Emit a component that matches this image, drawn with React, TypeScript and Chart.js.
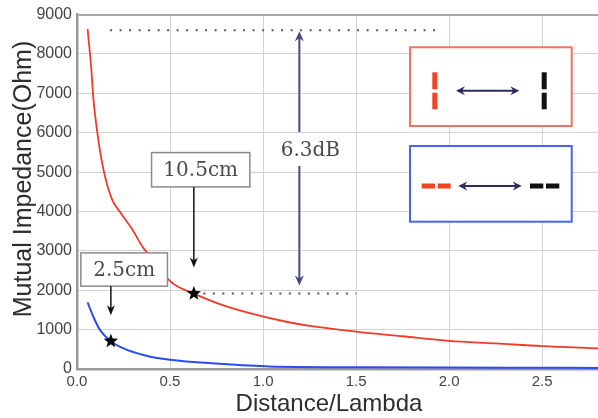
import React, { useEffect, useRef } from 'react';
import { Chart, registerables } from 'chart.js';

Chart.register(...registerables);

// ---- data ----
const redX = [0.057, 0.075, 0.089, 0.11, 0.142, 0.187, 0.232, 0.295, 0.357, 0.43, 0.5, 0.628, 0.767, 0.944, 1.125, 1.25, 1.5, 1.75, 2.0, 2.25, 2.5, 2.8];
const redY = [8630, 7730, 6820, 5980, 5070, 4320, 3980, 3560, 3070, 2690, 2230, 1915, 1650, 1400, 1200, 1095, 950, 832, 715, 650, 580, 525];
const blueX = [0.057, 0.089, 0.125, 0.182, 0.25, 0.357, 0.5, 0.767, 1.035, 1.5, 2.0, 2.5, 2.8];
const blueY = [1690, 1315, 982, 707, 525, 357, 232, 132, 65, 45, 35, 30, 28];
const starX = [0.182, 0.628];
const starY = [707, 1915];
const starLabels = ['2.5cm', '10.5cm'];
const levelHigh = 8600;
const levelLow = 1915;
const levelHighRange = [0.178, 1.937];
const levelLowEnd = 1.5;
const gapX = 1.195;
const gapLabel = '6.3dB';
const X_MIN = 0, X_MAX = 2.8, X_STEP = 0.5;
const Y_MIN = 0, Y_MAX = 9000, Y_STEP = 1000;
const xTitle = 'Distance/Lambda';
const yTitle = 'Mutual Impedance(Ohm)';

const RED = '#ef3b2a';
const BLUE = '#2c4cf0';
const SANS = '"Liberation Sans", Arial, Helvetica, sans-serif';
const SERIF = '"DejaVu Serif", serif';

function drawStar(ctx: CanvasRenderingContext2D, cx: number, cy: number, R: number, r: number) {
  ctx.beginPath();
  for (let i = 0; i < 10; i++) {
    const a = -Math.PI / 2 + (i * Math.PI) / 5;
    const rad = i % 2 === 0 ? R : r;
    const x = cx + rad * Math.cos(a);
    const y = cy + rad * Math.sin(a);
    if (i === 0) ctx.moveTo(x, y); else ctx.lineTo(x, y);
  }
  ctx.closePath();
  ctx.fill();
}

function arrowHeadV(ctx: CanvasRenderingContext2D, x: number, y: number, dir: number, hw: number, hl: number) {
  ctx.beginPath();
  ctx.moveTo(x, y);
  ctx.lineTo(x - hw, y - dir * hl);
  ctx.lineTo(x, y - dir * (hl - 3));
  ctx.lineTo(x + hw, y - dir * hl);
  ctx.closePath();
  ctx.fill();
}

function arrowHeadH(ctx: CanvasRenderingContext2D, x: number, y: number, dir: number, hw: number, hl: number) {
  ctx.beginPath();
  ctx.moveTo(x, y);
  ctx.lineTo(x - dir * hl, y - hw);
  ctx.lineTo(x - dir * (hl - 3), y);
  ctx.lineTo(x - dir * hl, y + hw);
  ctx.closePath();
  ctx.fill();
}

function labelBox(ctx: CanvasRenderingContext2D, left: number, top: number, w: number, h: number, text: string) {
  ctx.fillStyle = '#ffffff';
  ctx.fillRect(left, top, w, h);
  ctx.strokeStyle = '#8a8a8a';
  ctx.lineWidth = 1.5;
  ctx.setLineDash([]);
  ctx.strokeRect(left, top, w, h);
  ctx.fillStyle = '#4a4a4a';
  ctx.font = `20px ${SERIF}`;
  ctx.textAlign = 'center';
  ctx.textBaseline = 'middle';
  ctx.fillText(text, left + w / 2, top + h / 2 + 1);
}

const annotationPlugin = {
  id: 'annotations',
  afterDatasetsDraw(chart: any) {
    const ctx: CanvasRenderingContext2D = chart.ctx;
    const xs = chart.scales.x;
    const ys = chart.scales.y;
    ctx.save();

    ctx.strokeStyle = '#505562';
    ctx.lineWidth = 2;
    ctx.setLineDash([2, 7.5]);
    ctx.beginPath();
    ctx.moveTo(xs.getPixelForValue(levelHighRange[0]), ys.getPixelForValue(levelHigh));
    ctx.lineTo(xs.getPixelForValue(levelHighRange[1]), ys.getPixelForValue(levelHigh));
    ctx.moveTo(xs.getPixelForValue(starX[1]), ys.getPixelForValue(levelLow));
    ctx.lineTo(xs.getPixelForValue(levelLowEnd), ys.getPixelForValue(levelLow));
    ctx.stroke();
    ctx.setLineDash([]);

    const ax = xs.getPixelForValue(gapX);
    const yTop = ys.getPixelForValue(levelHigh) + 1;
    const yBot = ys.getPixelForValue(levelLow) - 8;
    const navy = '#474a7c';
    ctx.strokeStyle = navy;
    ctx.fillStyle = navy;
    ctx.lineWidth = 2;
    const labelY = 150;
    ctx.beginPath();
    ctx.moveTo(ax, yTop + 6);
    ctx.lineTo(ax, labelY - 18);
    ctx.moveTo(ax, labelY + 16);
    ctx.lineTo(ax, yBot - 6);
    ctx.stroke();
    arrowHeadV(ctx, ax, yTop, -1, 4.5, 10);
    arrowHeadV(ctx, ax, yBot, 1, 4.5, 10);
    ctx.fillStyle = '#4a4a4a';
    ctx.font = `20px ${SERIF}`;
    ctx.textAlign = 'center';
    ctx.textBaseline = 'middle';
    ctx.fillText(gapLabel, ax + 11, labelY + 1);

    const boxes = [
      { dx: -30, dy: -88.3, w: 86.6, h: 33.3 },
      { dx: -42.3, dy: -141, w: 98.3, h: 34.3 },
    ];
    for (let i = 0; i < starX.length; i++) {
      const sx = xs.getPixelForValue(starX[i]);
      const sy = ys.getPixelForValue(starY[i]);
      const b = boxes[i];
      const left = sx + b.dx;
      const top = sy + b.dy;
      labelBox(ctx, left, top, b.w, b.h, starLabels[i]);
      const tipY = sy - 26;
      ctx.strokeStyle = '#111';
      ctx.fillStyle = '#111';
      ctx.lineWidth = 1.5;
      ctx.beginPath();
      ctx.moveTo(sx, top + b.h);
      ctx.lineTo(sx, tipY - 6);
      ctx.stroke();
      arrowHeadV(ctx, sx, tipY, 1, 4, 10);
      ctx.fillStyle = '#000';
      drawStar(ctx, sx, sy, 7.5, 3.2);
    }

    const arrowNavy = '#2b2d5c';
    ctx.fillStyle = '#ffffff';
    ctx.fillRect(410, 47.3, 161.7, 78.7);
    ctx.strokeStyle = '#f07262';
    ctx.lineWidth = 2;
    ctx.strokeRect(410, 47.3, 161.7, 78.7);
    ctx.fillStyle = '#f04424';
    ctx.fillRect(432.3, 72.3, 5, 17);
    ctx.fillRect(432.3, 92.7, 5, 16.6);
    ctx.fillStyle = '#111';
    ctx.fillRect(541.7, 72.3, 5, 17);
    ctx.fillRect(541.7, 92.7, 5, 16.6);
    ctx.strokeStyle = arrowNavy;
    ctx.fillStyle = arrowNavy;
    ctx.lineWidth = 2;
    ctx.beginPath();
    ctx.moveTo(460, 90.7);
    ctx.lineTo(515, 90.7);
    ctx.stroke();
    arrowHeadH(ctx, 456, 90.7, -1, 4.5, 9);
    arrowHeadH(ctx, 519.3, 90.7, 1, 4.5, 9);

    ctx.fillStyle = '#ffffff';
    ctx.fillRect(410, 146, 161.7, 75.7);
    ctx.strokeStyle = '#4564f2';
    ctx.lineWidth = 2;
    ctx.strokeRect(410, 146, 161.7, 75.7);
    ctx.fillStyle = '#f04424';
    ctx.fillRect(421.7, 183.5, 13.3, 5);
    ctx.fillRect(437.7, 183.5, 13, 5);
    ctx.fillStyle = '#111';
    ctx.fillRect(530, 183.5, 13.3, 5);
    ctx.fillRect(546, 183.5, 13.3, 5);
    ctx.strokeStyle = arrowNavy;
    ctx.fillStyle = arrowNavy;
    ctx.beginPath();
    ctx.moveTo(462, 186);
    ctx.lineTo(518, 186);
    ctx.stroke();
    arrowHeadH(ctx, 458.3, 186, -1, 4.5, 9);
    arrowHeadH(ctx, 521.7, 186, 1, 4.5, 9);

    ctx.restore();
  },
  afterDraw(chart: any) {
    const ctx: CanvasRenderingContext2D = chart.ctx;
    ctx.save();
    ctx.fillStyle = '#2e2e2e';
    ctx.font = `24px ${SANS}`;
    ctx.textAlign = 'center';
    ctx.textBaseline = 'alphabetic';
    ctx.fillText(xTitle, 329, 411);
    ctx.translate(31, 179);
    ctx.rotate(-Math.PI / 2);
    ctx.font = `25px ${SANS}`;
    ctx.fillText(yTitle, 0, 0);
    ctx.restore();
  },
};

export default function App() {
  const canvasRef = useRef<HTMLCanvasElement | null>(null);

  useEffect(() => {
    if (!canvasRef.current) return;
    const chart = new Chart(canvasRef.current, {
      type: 'line',
      data: {
        datasets: [
          {
            label: 'red',
            data: redX.map((x, i) => ({ x, y: redY[i] })),
            borderColor: RED,
            borderWidth: 1.8,
            pointRadius: 0,
            cubicInterpolationMode: 'monotone',
            fill: false,
          },
          {
            label: 'blue',
            data: blueX.map((x, i) => ({ x, y: blueY[i] })),
            borderColor: BLUE,
            borderWidth: 2,
            pointRadius: 0,
            cubicInterpolationMode: 'monotone',
            fill: false,
          },
        ],
      },
      options: {
        responsive: false,
        animation: false,
        devicePixelRatio: 1,
        layout: { padding: { top: 9, right: 0, left: 0, bottom: 0 } },
        plugins: {
          legend: { display: false },
          tooltip: { enabled: false },
        },
        scales: {
          x: {
            type: 'linear',
            min: X_MIN,
            max: X_MAX,
            afterFit: (s: any) => { s.height = 49; },
            ticks: {
              stepSize: X_STEP,
              includeBounds: false,
              padding: 4,
              color: '#444',
              font: { family: SANS, size: 15 },
              maxRotation: 0,
              callback: (v: any) => Number(v).toFixed(1),
            },
            grid: { color: '#d2d2d2', lineWidth: 1, drawTicks: false },
            border: { color: '#9a9a9a', width: 2.5 },
          },
          y: {
            type: 'linear',
            min: Y_MIN,
            max: Y_MAX,
            afterFit: (s: any) => { s.width = 77; },
            ticks: {
              stepSize: Y_STEP,
              padding: 5,
              color: '#444',
              font: { family: SANS, size: 16 },
              callback: (v: any) => String(v),
            },
            grid: {
              color: (c: any) => (c.tick && c.tick.value === Y_MAX ? '#a8a8a8' : '#d2d2d2'),
              lineWidth: (c: any) => (c.tick && c.tick.value === Y_MAX ? 2 : 1),
              drawTicks: false,
            },
            border: { color: '#9a9a9a', width: 2.5 },
          },
        },
      },
      plugins: [annotationPlugin],
    } as any);
    return () => chart.destroy();
  }, []);

  return (
    <div style={{ position: 'fixed', left: 0, top: 0, width: 598, height: 418, background: '#fff' }}>
      <canvas ref={canvasRef} width={598} height={418} style={{ display: 'block' }} />
    </div>
  );
}
